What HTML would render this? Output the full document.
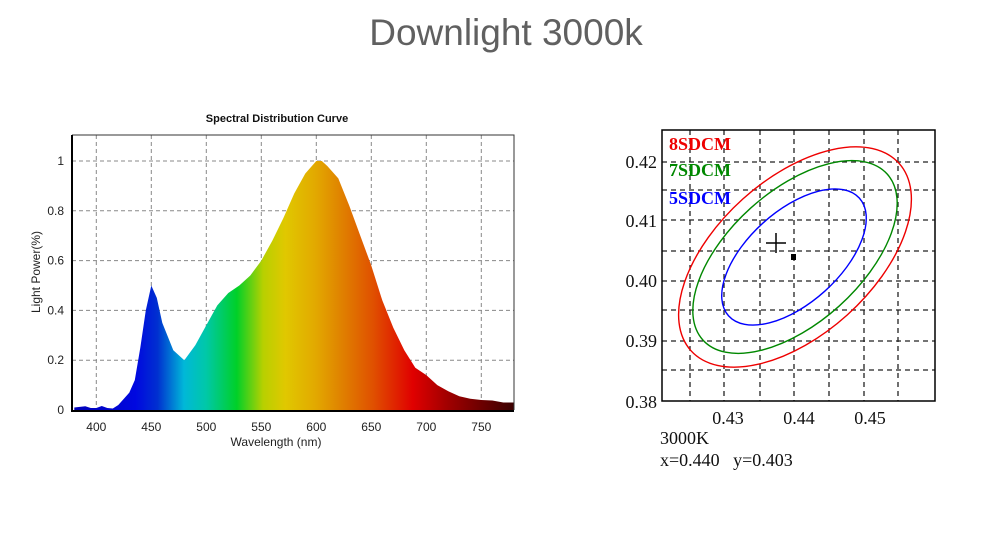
<!DOCTYPE html>
<html><head><meta charset="utf-8"><style>
body{margin:0;background:#fff;width:1000px;height:532px;overflow:hidden}
</style></head><body>
<svg id="s" width="1000" height="532" xmlns="http://www.w3.org/2000/svg" font-family="Liberation Sans, Arial, sans-serif">
<text x="506" y="45" text-anchor="middle" font-size="37" fill="#606060" font-weight="300">Downlight 3000k</text>
<text x="277" y="122" text-anchor="middle" font-size="11" font-weight="bold" fill="#111">Spectral Distribution Curve</text>
<defs>
<linearGradient id="g" gradientUnits="userSpaceOnUse" x1="74" y1="0" x2="514" y2="0">
<stop offset="0" stop-color="#0000b8"/>
<stop offset="0.14" stop-color="#0008e0"/>
<stop offset="0.19" stop-color="#0030d0"/>
<stop offset="0.25" stop-color="#00b8d8"/>
<stop offset="0.30" stop-color="#00c8a8"/>
<stop offset="0.37" stop-color="#00d028"/>
<stop offset="0.43" stop-color="#b8d000"/>
<stop offset="0.48" stop-color="#e0c800"/>
<stop offset="0.55" stop-color="#e2a800"/>
<stop offset="0.61" stop-color="#e08000"/>
<stop offset="0.68" stop-color="#e05000"/>
<stop offset="0.77" stop-color="#e00000"/>
<stop offset="0.85" stop-color="#a00000"/>
<stop offset="1" stop-color="#3a0000"/>
</linearGradient>
</defs>
<g id="left"></g>
<g id="right"></g>
</svg>
<script>
var L=document.getElementById('left'),R=document.getElementById('right');
function X(l){return 74.3+(l-380)*1.1}function Y(v){return 410-249*v}
var h='';
[400,450,500,550,600,650,700,750].forEach(function(l){h+='<line x1="'+X(l)+'" y1="135" x2="'+X(l)+'" y2="410" stroke="#888" stroke-dasharray="4,3"/>';
h+='<text x="'+X(l)+'" y="431" font-size="12" text-anchor="middle" fill="#222">'+l+'</text>';});
[0.2,0.4,0.6,0.8,1].forEach(function(v){h+='<line x1="72" y1="'+Y(v)+'" x2="514" y2="'+Y(v)+'" stroke="#888" stroke-dasharray="4,3"/>';});
[[0,'0'],[0.2,'0.2'],[0.4,'0.4'],[0.6,'0.6'],[0.8,'0.8'],[1,'1']].forEach(function(a){h+='<text x="64" y="'+(Y(a[0])+4)+'" font-size="12" text-anchor="end" fill="#222">'+a[1]+'</text>';});
var d=[[380,0.01],[390,0.015],[395,0.008],[400,0.008],[405,0.016],[410,0.008],[415,0.006],[420,0.02],[430,0.07],[435,0.12],[440,0.25],[445,0.4],[450,0.5],[455,0.45],[460,0.35],[470,0.24],[480,0.2],[490,0.26],[500,0.34],[510,0.42],[520,0.47],[530,0.5],[540,0.54],[550,0.6],[560,0.68],[570,0.77],[580,0.87],[590,0.95],[600,1.0],[605,1.0],[610,0.98],[620,0.93],[630,0.82],[640,0.7],[650,0.58],[660,0.44],[670,0.33],[680,0.24],[690,0.17],[700,0.14],[710,0.1],[720,0.075],[730,0.055],[740,0.045],[750,0.04],[760,0.038],[770,0.03],[780,0.03]];
var p='M'+X(380)+',410';d.forEach(function(a){p+=' L'+X(a[0]).toFixed(1)+','+Y(a[1]).toFixed(1)});p+=' L'+X(780)+',410Z';
h+='<path d="'+p+'" fill="url(#g)"/>';
h+='<path d="M72,135 L514,135 L514,410" fill="none" stroke="#333" stroke-width="1"/>';
h+='<path d="M72,135 L72,411 L514,411" fill="none" stroke="#000" stroke-width="2"/>';
h+='<text x="276" y="446" font-size="12" text-anchor="middle" fill="#222">Wavelength  (nm)</text>';
h+='<text transform="translate(40,272) rotate(-90)" font-size="12" text-anchor="middle" fill="#222">Light Power(%)</text>';
L.innerHTML=h;
var r='';
[690,724,760,794,829,864,898].forEach(function(x){r+='<line x1="'+x+'" y1="130" x2="'+x+'" y2="401" stroke="#222" stroke-dasharray="5,4" stroke-width="1.3"/>'});
[162,190,220,251,281,310,341,370].forEach(function(y){r+='<line x1="662" y1="'+y+'" x2="935" y2="'+y+'" stroke="#222" stroke-dasharray="5,4" stroke-width="1.3"/>'});
r+='<rect x="662" y="130" width="273" height="271" fill="none" stroke="#000" stroke-width="1.5"/>';
r+='<ellipse cx="795" cy="257" rx="140" ry="78" transform="rotate(-42 795 257)" fill="none" stroke="#e00" stroke-width="1.4"/>';
r+='<ellipse cx="795" cy="257" rx="124" ry="66" transform="rotate(-42 795 257)" fill="none" stroke="#080" stroke-width="1.4"/>';
r+='<ellipse cx="794" cy="257" rx="88" ry="46" transform="rotate(-42 794 257)" fill="none" stroke="#00f" stroke-width="1.4"/>';
r+='<path d="M766,243 L786,243 M776,233 L776,253" stroke="#000" stroke-width="1.5"/><rect x="791" y="254" width="5" height="6" fill="#000"/>';
var f='font-family="Liberation Serif, serif" font-size="18"';
r+='<text x="669" y="150" '+f+' font-weight="bold" fill="#e00">8SDCM</text><text x="669" y="176" '+f+' font-weight="bold" fill="#080">7SDCM</text><text x="669" y="204" '+f+' font-weight="bold" fill="#00f">5SDCM</text>';
[[0.42,168],[0.41,227],[0.40,287],[0.39,347],[0.38,408]].forEach(function(a){r+='<text x="657" y="'+a[1]+'" '+f+' text-anchor="end" fill="#111">'+a[0].toFixed(2)+'</text>'});
[['0.43',728],['0.44',799],['0.45',870]].forEach(function(a){r+='<text x="'+a[1]+'" y="424" '+f+' text-anchor="middle" fill="#111">'+a[0]+'</text>'});
r+='<text x="660" y="444" '+f+' fill="#111">3000K</text><text x="660" y="466" '+f+' fill="#111" xml:space="preserve">x=0.440   y=0.403</text>';
R.innerHTML=r;
</script>
</body></html>
